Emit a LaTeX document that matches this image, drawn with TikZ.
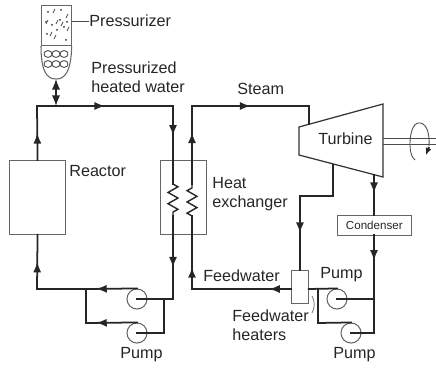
\documentclass[tikz,border=0pt]{standalone}
\usepackage{fontspec}
\setmainfont{Liberation Sans}
\usetikzlibrary{arrows.meta,calc,decorations.markings,decorations.pathmorphing}

\begin{document}
\begin{tikzpicture}[
    x=0.02cm, y=-0.02cm,
    pipe/.style={draw=black!85, line width=1pt, line cap=rect},
    flow/.style={postaction={decorate}, decoration={markings, mark=at position #1 with {\arrow{Latex[length=6pt,width=4.6pt]}}}},
    vessel/.style={rectangle, draw=black!60, line width=0.5pt, inner sep=0pt, anchor=north west},
    pumpbody/.style={circle, draw=black!60, line width=0.6pt, minimum size=11.4pt, inner sep=0pt},
    coil/.style={draw=black!85, line width=0.8pt, decorate, decoration={zigzag, amplitude=2.8pt, segment length=6.4pt}},
    label/.style={font=\fontsize{9.2}{11}\selectfont, text=black!85, align=left, inner sep=0pt}
]
\useasboundingbox (0,0) rectangle (436,368);

% Vessels
\node[vessel, minimum width=32pt, minimum height=42pt] (reactor) at (9,160) {};
\node[vessel, minimum width=26pt, minimum height=42pt] (exchanger) at (160,160) {};
\node[vessel, minimum width=42pt, minimum height=11.5pt] (condenser) at (337,215) {};
\node[vessel, minimum width=9.6pt, minimum height=19pt] (heater) at (291,270) {};
\node[vessel, minimum width=17pt, minimum height=22.7pt] (pressurizer) at (41,5) {};

% Pumps
\node[pumpbody] (pumpA) at (137,299) {};
\node[pumpbody] (pumpB) at (137,333) {};
\node[pumpbody] (pumpC) at (337,299) {};
\node[pumpbody] (pumpD) at (351,333) {};

% Pressurizer
\draw[black!60, line width=0.6pt] (pressurizer.south west) .. controls (41,72) and (47,79) .. (56,79)
    coordinate (presbot) .. controls (65,79) and (71,72) .. (pressurizer.south east);
\foreach \px in {48,56,64} \foreach \py in {54,64}
    \draw[black!70, line width=0.5pt] (\px,\py) circle [x radius=4, y radius=3.4];
\foreach \px/\py in {48/12,61/10,46/22,60/20,67/22,52/25,64/27,47/34,66/40,57/30}
    \fill[black!80] (\px,\py) circle [radius=1];
\foreach \px/\py in {53/13,46/24,56/24,66/18,50/36,54/39,61/26,67/31}
    \draw[black!70, line width=0.4pt] (\px,\py) -- ++(2,-4);

% Turbine
\coordinate (tbNW) at (299,127);
\coordinate (tbNE) at (383,104);
\coordinate (tbSE) at (383,177);
\coordinate (tbSW) at (299,155);
\draw[black!80, line width=0.7pt] (tbNW) -- (tbNE) -- (tbSE) -- (tbSW) -- cycle;
\coordinate (shaftA) at (383,138);
\coordinate (shaftB) at (383,144);
\coordinate (shaftC) at (436,138);
\coordinate (shaftD) at (436,144);
\draw[black!70, line width=0.5pt] (shaftA) -- (shaftC) (shaftB) -- (shaftD);
\draw[black!70, line width=0.5pt] (429,146) .. controls (430,130) and (425,122) .. (418,123)
    .. controls (409,124) and (407,155) .. (415,160);
\coordinate (spinA) at (429,147);
\coordinate (spinB) at (426,155);
\draw[black!85, line width=1pt, -{Latex[length=4pt,width=3.5pt]}] (spinA) -- (spinB);

% Primary loop
\coordinate (topL) at (37,106);
\coordinate (presjoin) at (56,106);
\coordinate (topR) at (173,106);
\coordinate (exTopA) at (173,184);
\coordinate (exBotA) at (173,216);
\coordinate (retA) at (173,299);
\coordinate (splitA) at (164,299);
\coordinate (splitB) at (164,333);
\coordinate (lowL) at (37,289);
\coordinate (mergeA) at (86,289);
\coordinate (mergeB) at (86,323);
\draw[pipe, flow=0.5] (reactor.north) -- (topL);
\draw[pipe, flow=0.5] (topL) -- (topR);
\draw[pipe, flow=0.38] (topR) -- (exTopA);
\draw[coil] (exTopA) -- (exBotA);
\draw[pipe, flow=0.62] (exBotA) -- (retA);
\draw[pipe] (retA) -- (pumpA.center);
\draw[pipe] (splitA) -- (splitB) -- (pumpB.center);
\draw[pipe, flow=0.8] (pumpA.north) -- (mergeA);
\draw[pipe, flow=0.8] (pumpB.north) -- (mergeB);
\draw[pipe] (mergeB) -- (mergeA);
\draw[pipe] (mergeA) -- (lowL);
\draw[pipe, flow=0.5] (lowL) -- (reactor.south);
\draw[black!85, line width=0.7pt, {Latex[length=6pt,width=4.6pt]}-{Latex[length=6pt,width=4.6pt]}] (presbot) -- (presjoin);

% Secondary loop
\coordinate (exTopB) at (192,184);
\coordinate (exBotB) at (192,216);
\coordinate (topB) at (192,106);
\coordinate (steamEnd) at (309,106);
\coordinate (steamIn) at (309,124);
\coordinate (bleedA) at (333,165);
\coordinate (bleedB) at (333,196);
\coordinate (bleedC) at (300,196);
\coordinate (feedEnd) at (192,289);
\coordinate (turbOut) at (374,175);
\coordinate (condIn) at (374,215);
\coordinate (condOut) at (374,235);
\coordinate (backA) at (374,299);
\coordinate (backB) at (374,333);
\coordinate (heatSplit) at (318,289);
\coordinate (heatLow) at (318,323);
\draw[coil] (exBotB) -- (exTopB);
\draw[pipe, flow=0.66] (exTopB) -- (topB);
\draw[pipe, flow=0.5] (topB) -- (steamEnd);
\draw[pipe] (steamEnd) -- (steamIn);
\draw[pipe] (bleedA) -- (bleedB) -- (bleedC);
\draw[pipe, flow=0.5] (bleedC) -- (heater.north);
\draw[pipe] (heater.east |- feedEnd) -- (pumpC.north);
\draw[pipe] (heatSplit) -- (heatLow) -- (pumpD.north);
\draw[pipe, flow=0.22] (heater.west |- feedEnd) -- (feedEnd);
\draw[pipe, flow=0.3] (feedEnd) -- (exBotB);
\draw[pipe, flow=0.45] (turbOut) -- (condIn);
\draw[pipe, flow=0.4] (condOut) -- (backA);
\draw[pipe] (pumpC.center) -- (backA) -- (backB) -- (pumpD.center);
\draw[black!60, line width=0.4pt] (312,296) .. controls (315,301) and (315,308) .. (312,313);

% Labels
\node[label, anchor=west] (lbPres) at (89,21) {Pressurizer};
\draw[black!70, line width=0.5pt] (pressurizer.east |- lbPres.west) -- (lbPres.west);
\node[label, anchor=north west] (lbWater) at (91,61) {Pressurized\\heated water};
\node[label, anchor=west] (lbReactor) at (69,171) {Reactor};
\node[label, anchor=west] (lbSteam) at (237,89) {Steam};
\node[label, anchor=west] (lbTurbine) at (318,139) {Turbine};
\node[label, anchor=north west] (lbExch) at (212,177) {Heat\\exchanger};
\node[label, anchor=west] (lbFeed) at (203,276) {Feedwater};
\node[label, anchor=north west] (lbHeat) at (232,309) {Feedwater\\heaters};
\node[label, anchor=west] (lbPumpC) at (320,275) {Pump};
\node[label, anchor=west] (lbPumpD) at (333,355) {Pump};
\node[label, anchor=west] (lbPumpB) at (120,355) {Pump};
\node[label, font=\fontsize{6.6}{8}\selectfont] (lbCond) at (condenser.center) {Condenser};

\end{tikzpicture}
\end{document}
